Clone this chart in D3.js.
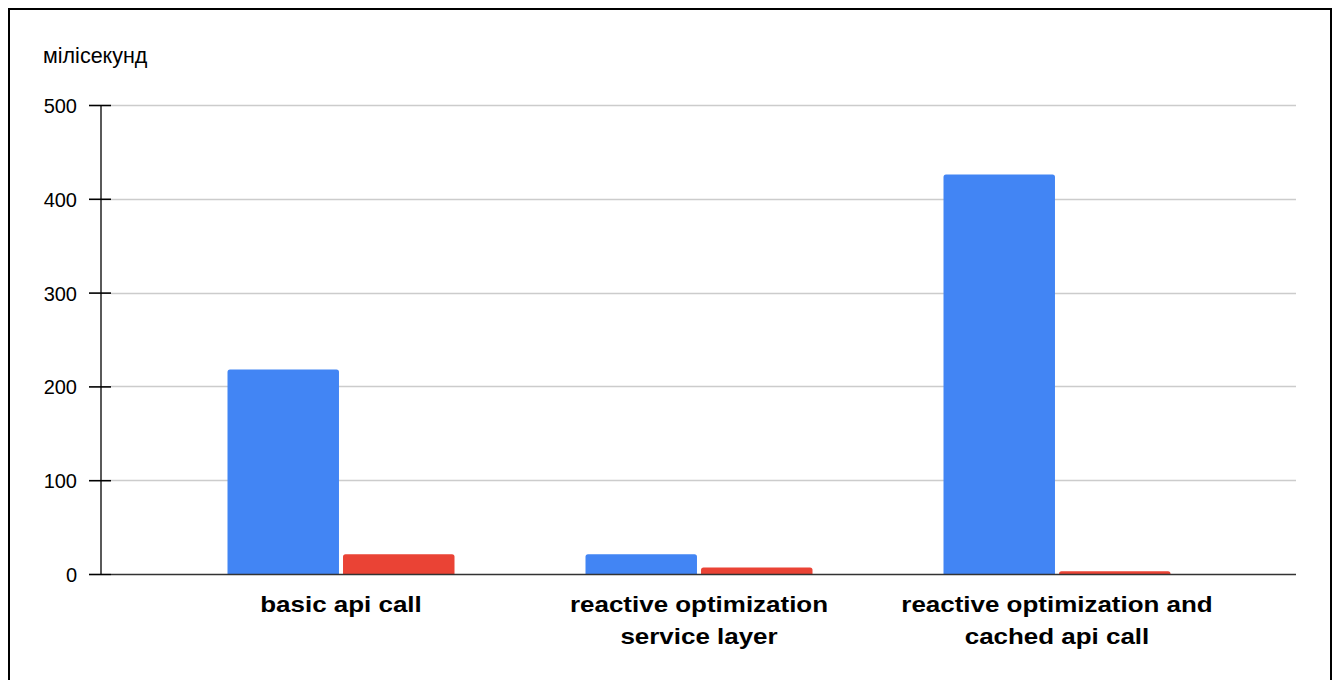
<!DOCTYPE html>
<html>
<head>
<meta charset="utf-8">
<script src="https://cdn.jsdelivr.net/npm/d3@7"></script>
<style>
  html, body { margin: 0; padding: 0; background: #fff; }
  svg { display: block; font-family: "Liberation Sans", Arial, sans-serif; }
</style>
</head>
<body>
<svg id="chart" width="1340" height="680"></svg>
<script>
// Response time per approach, in milliseconds
const categories = [
  ["basic api call"],
  ["reactive optimization", "service layer"],
  ["reactive optimization and", "cached api call"]
];
const seriesNames = ["first request", "repeat request"];
const seriesA = [218, 21, 426];
const seriesB = [21, 7, 3];
const yTicks = [0, 100, 200, 300, 400, 500];
const yTitle = "мілісекунд";
const colors = ["#4285F4", "#EA4335"];

const svg = d3.select("#chart");
const labelStretch = 1.18;

// Outer frame (open at the bottom edge)
svg.append("path")
  .attr("d", "M9,690 V9 H1331 V690")
  .attr("fill", "none")
  .attr("stroke", "#000")
  .attr("stroke-width", 2);

const y = d3.scaleLinear().domain([0, 500]).range([574, 105]);
const x0 = d3.scaleBand().domain(d3.range(categories.length)).range([162, 1236]).paddingInner(0).paddingOuter(0);
const groupW = 227;
const x1 = d3.scaleBand().domain(d3.range(2)).range([0, groupW]).paddingInner(0.035);

const plotL = 111, plotR = 1296, axisX = 100;

// Gridlines
svg.append("g").selectAll("line").data(yTicks.filter(d => d > 0)).join("line")
  .attr("x1", plotL).attr("x2", plotR)
  .attr("y1", d => Math.round(y(d)) + 0.5).attr("y2", d => Math.round(y(d)) + 0.5)
  .attr("stroke", "#cccccc").attr("stroke-width", 1.3);

// Bars with slightly rounded tops
function barPath(x, yTop, w, yBase, r) {
  r = Math.min(r, (yBase - yTop));
  return `M${x},${yBase} V${yTop + r} Q${x},${yTop} ${x + r},${yTop} H${x + w - r} Q${x + w},${yTop} ${x + w},${yTop + r} V${yBase} Z`;
}
const rows = [];
categories.forEach((c, i) => {
  rows.push({ cat: i, s: 0, v: seriesA[i] });
  rows.push({ cat: i, s: 1, v: seriesB[i] });
});
svg.append("g").selectAll("path").data(rows).join("path")
  .attr("d", d => {
    const gx = x0(d.cat) + (x0.bandwidth() - groupW) / 2;
    return barPath(gx + x1(d.s), y(d.v), x1.bandwidth(), y(0), 2.5);
  })
  .attr("fill", d => colors[d.s]);

// Baseline
svg.append("line")
  .attr("x1", plotL).attr("x2", plotR)
  .attr("y1", y(0) + 0.5).attr("y2", y(0) + 0.5)
  .attr("stroke", "#333").attr("stroke-width", 1.3);

// Y axis with ticks crossing the axis line
const yAxis = d3.axisLeft(y).tickValues(yTicks).tickSize(0).tickFormat(d3.format("d"));
const ag = svg.append("g").attr("transform", `translate(${axisX + 0.5},0)`).call(yAxis);
ag.select(".domain").attr("stroke", "#000").attr("stroke-width", 1.3);
ag.selectAll(".tick line").remove();
ag.selectAll(".tick").append("line")
  .attr("x1", -11.5).attr("x2", 10.5)
  .attr("stroke", "#000").attr("stroke-width", 1.6);
ag.selectAll(".tick text")
  .attr("font-family", "Liberation Sans, Arial, sans-serif")
  .attr("font-size", 20)
  .attr("fill", "#000")
  .attr("text-anchor", "end")
  .attr("x", -23.5).attr("dy", null).attr("y", 7.5);

// Y title
svg.append("text")
  .attr("x", 43).attr("y", 63)
  .attr("font-size", 21.5)
  .attr("fill", "#000")
  .text(yTitle);

// Category labels
const lg = svg.append("g");
categories.forEach((lines, i) => {
  const cx = x0(i) + x0.bandwidth() / 2;
  lines.forEach((t, j) => {
    lg.append("text")
      .attr("transform", `translate(${cx},${612 + j * 32}) scale(${labelStretch},1)`)
      .attr("text-anchor", "middle")
      .attr("font-size", 22)
      .attr("font-weight", "bold")
      .attr("fill", "#000")
      .text(t);
  });
});
</script>
</body>
</html>
